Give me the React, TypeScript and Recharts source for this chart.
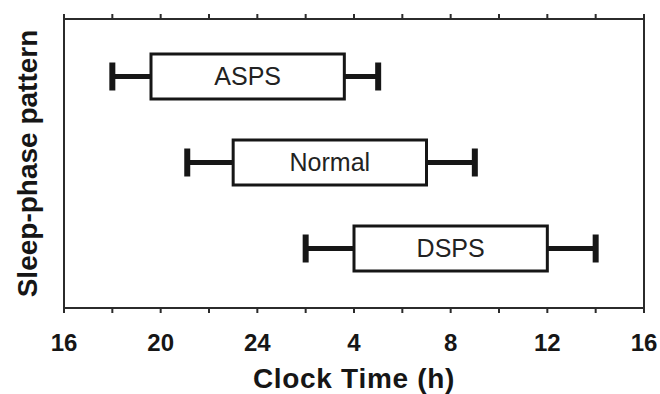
import React from "react";
import { BarChart, Bar, XAxis, YAxis, LabelList } from "recharts";

// sleep phase patterns (hours, 24+ = next morning)
const categories = ["ASPS", "Normal", "DSPS"];
const whiskerLow = [18, 21.1, 26];
const boxLow = [19.6, 23, 28];
const boxHigh = [27.6, 31, 36];
const whiskerHigh = [29, 33, 38];

const hourTicks = [16, 18, 20, 22, 24, 26, 28, 30, 32, 34, 36, 38, 40];
const tickLabels = ["16", "", "20", "", "24", "", "4", "", "8", "", "12", "", "16"];

const FONT = "'Liberation Sans', Arial, Helvetica, sans-serif";
const INK = "#161616";
const AXIS = "#2b2b2b";
const CAP = 28;

// stacked segments: transparent base, left whisker, box, right whisker
const rows = categories.map((name, i) => ({
    name,
    base: whiskerLow[i],
    lowWhisker: boxLow[i] - whiskerLow[i],
    box: boxHigh[i] - boxLow[i],
    highWhisker: whiskerHigh[i] - boxHigh[i],
}));

const Whisker = (side: "left" | "right") => (props: any) => {
    const { x, y, width, height } = props;
    const cy = y + height / 2;
    const capX = side === "left" ? x : x + width;
    return (
        <g>
            <line x1={x} x2={x + width} y1={cy} y2={cy} stroke={INK} strokeWidth={5} />
            <line x1={capX} x2={capX} y1={cy - CAP / 2} y2={cy + CAP / 2} stroke={INK} strokeWidth={6} />
        </g>
    );
};

const YTitle = (props: any) => {
    const { viewBox } = props;
    const cy = viewBox.y + viewBox.height / 2;
    return (
        <text
            x={37}
            y={cy}
            transform={`rotate(-90, 37, ${cy})`}
            textAnchor="middle"
            fill={INK}
            fontFamily={FONT}
            fontWeight="bold"
            fontSize={28}
        >
            Sleep-phase pattern
        </text>
    );
};

export default function App() {
    return (
        <div style={{ position: "absolute", left: 0, top: 0, background: "#fff" }}>
            <BarChart
                width={660}
                height={394}
                data={rows}
                layout="vertical"
                barSize={45}
                margin={{ top: 0, right: 0, bottom: 0, left: 0 }}
            >
                <XAxis
                    type="number"
                    domain={[16, 40]}
                    ticks={hourTicks}
                    allowDataOverflow
                    interval={0}
                    height={86}
                    stroke={AXIS}
                    strokeWidth={2}
                    tickSize={5}
                    tickMargin={21}
                    tickFormatter={(v: number) => tickLabels[hourTicks.indexOf(v)]}
                    tick={{ fill: INK, fontSize: 24, fontWeight: "bold", fontFamily: FONT }}
                    label={{
                        value: "Clock Time (h)",
                        position: "insideBottom",
                        offset: 6,
                        fill: INK,
                        fontSize: 28,
                        fontWeight: "bold",
                        fontFamily: FONT,
                        letterSpacing: 0.7,
                    }}
                />
                <XAxis
                    xAxisId="top"
                    orientation="top"
                    type="number"
                    domain={[16, 40]}
                    ticks={hourTicks}
                    allowDataOverflow
                    interval={0}
                    height={19}
                    stroke={AXIS}
                    strokeWidth={2}
                    tickSize={5}
                    tickFormatter={() => ""}
                    tick={{ fontSize: 1 }}
                />
                <YAxis
                    type="category"
                    dataKey="name"
                    width={64}
                    padding={{ top: 14, bottom: 17 }}
                    stroke={AXIS}
                    strokeWidth={2}
                    tick={false}
                    tickLine={false}
                    label={<YTitle />}
                />
                <YAxis
                    yAxisId="right"
                    orientation="right"
                    type="category"
                    dataKey="name"
                    width={16}
                    padding={{ top: 14, bottom: 17 }}
                    stroke={AXIS}
                    strokeWidth={2}
                    tick={false}
                    tickLine={false}
                />
                <Bar dataKey="base" stackId="s" fill="transparent" isAnimationActive={false} />
                <Bar dataKey="lowWhisker" stackId="s" shape={Whisker("left")} isAnimationActive={false} />
                <Bar dataKey="box" stackId="s" fill="#fff" stroke={INK} strokeWidth={3} isAnimationActive={false}>
                    <LabelList dataKey="name" position="center" fill="#222" fontSize={25} fontFamily={FONT} />
                </Bar>
                <Bar dataKey="highWhisker" stackId="s" shape={Whisker("right")} isAnimationActive={false} />
            </BarChart>
        </div>
    );
}
